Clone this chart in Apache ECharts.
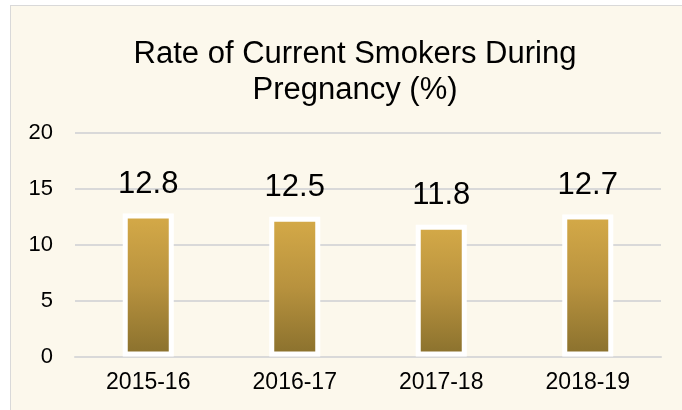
<!DOCTYPE html>
<html>
<head>
<meta charset="utf-8">
<script src="https://cdn.jsdelivr.net/npm/echarts@6/dist/echarts.min.js"></script>
<style>
  html, body { margin: 0; padding: 0; background: #ffffff; }
  #wrap { position: relative; width: 682px; height: 410px; overflow: hidden; }
  #card { position: absolute; left: 10px; top: 5px; width: 700px; height: 420px;
          background: #fcf8ec; border-left: 1px solid #d9d9d9; border-top: 1px solid #d9d9d9; }
  #chart { position: absolute; left: 0; top: 0; width: 682px; height: 410px; }
</style>
</head>
<body>
<div id="wrap">
  <div id="card"></div>
  <div id="chart"></div>
</div>
<script>
const titleText = 'Rate of Current Smokers During\nPregnancy (%)';
const categories = ['2015-16', '2016-17', '2017-18', '2018-19'];
const values = [12.8, 12.5, 11.8, 12.7];
const yTicks = [0, 5, 10, 15, 20];

const chart = echarts.init(document.getElementById('chart'), null, { renderer: 'canvas' });
const font = '"Liberation Sans", Arial, sans-serif';
chart.setOption({
  backgroundColor: 'transparent',
  animation: false,
  graphic: [{
    type: 'text',
    x: 355, y: 36,
    style: {
      text: titleText,
      x: 0, y: 0,
      align: 'center',
      font: '31px ' + font,
      fill: '#000000',
      lineHeight: 36
    }
  }],
  grid: { left: 75, right: 21, top: 133, bottom: 53.5 },
  xAxis: {
    type: 'category',
    data: categories,
    axisTick: { show: false },
    axisLine: { lineStyle: { color: '#d9d9d9', width: 2 } },
    axisLabel: { color: '#000', fontSize: 23, fontFamily: font, margin: 15 }
  },
  yAxis: {
    type: 'value',
    min: yTicks[0], max: yTicks[yTicks.length - 1], interval: 5,
    axisLine: { show: false },
    axisTick: { show: false },
    splitLine: { lineStyle: { color: '#d9d9d9', width: 2 } },
    axisLabel: { color: '#000', fontSize: 22, fontFamily: font, margin: 22 }
  },
  series: [{
    type: 'bar',
    data: values,
    barWidth: 51,
    itemStyle: {
      borderColor: '#ffffff',
      borderWidth: 5,
      color: new echarts.graphic.LinearGradient(0, 0, 0, 1, [
        { offset: 0, color: '#d5aa48' },
        { offset: 0.5, color: '#b8923e' },
        { offset: 1, color: '#89702d' }
      ])
    },
    label: {
      show: true,
      position: 'top',
      distance: 14,
      color: '#000',
      fontSize: 31,
      fontFamily: font
    }
  }]
});
</script>
</body>
</html>
